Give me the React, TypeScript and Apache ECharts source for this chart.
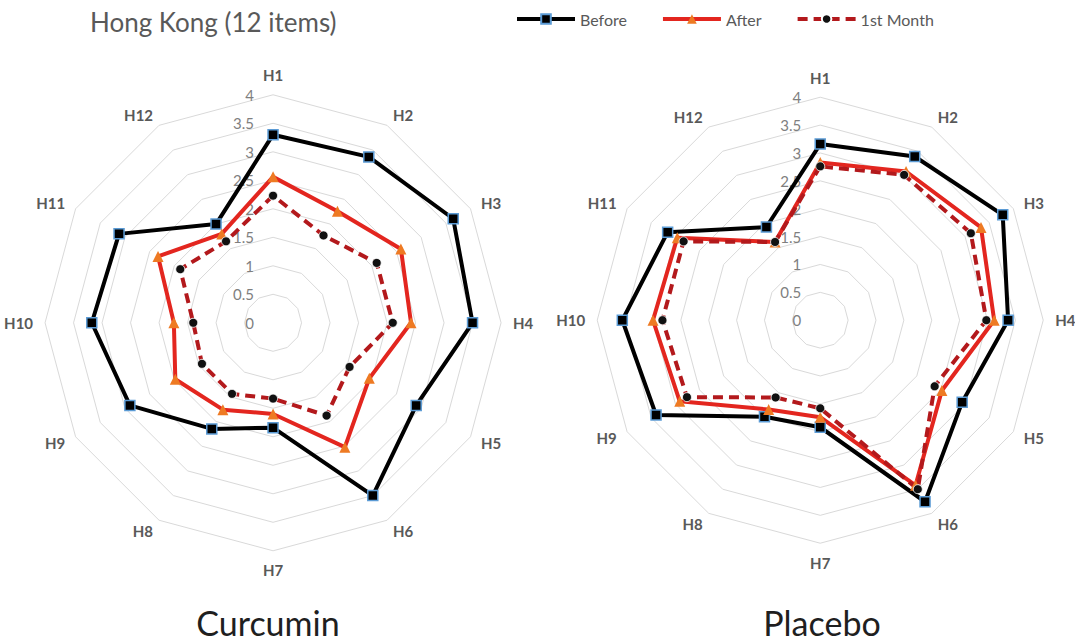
import React, { useEffect, useRef } from "react";
import * as echarts from "echarts";

const indicators = ["H1", "H2", "H3", "H4", "H5", "H6", "H7", "H8", "H9", "H10", "H11", "H12"];
const axisMax = 4;
const seriesNames = ["Before", "After", "1st Month"];

const curcuminBefore = [3.3, 3.36, 3.65, 3.5, 2.9, 3.5, 1.84, 2.15, 2.9, 3.18, 3.12, 2.0];
const curcuminAfter = [2.56, 2.26, 2.59, 2.42, 1.95, 2.52, 1.6, 1.76, 1.98, 1.74, 2.33, 1.8];
const curcuminMonth1 = [2.23, 1.77, 2.1, 2.1, 1.55, 1.88, 1.33, 1.44, 1.44, 1.4, 1.88, 1.65];

const placeboBefore = [3.16, 3.39, 3.78, 3.37, 2.94, 3.76, 1.92, 2.0, 3.4, 3.55, 3.16, 1.93];
const placeboAfter = [2.83, 3.08, 3.33, 3.12, 2.52, 3.42, 1.74, 1.85, 2.91, 3.0, 2.96, 1.62];
const placeboMonth1 = [2.76, 3.01, 3.12, 2.98, 2.37, 3.5, 1.58, 1.6, 2.76, 2.83, 2.83, 1.62];

const FONT = "Lato, 'Open Sans', sans-serif";

// ECharts places indicators counter-clockwise; reorder to get a clockwise layout
const order = [0, 11, 10, 9, 8, 7, 6, 5, 4, 3, 2, 1];
const reorder = (arr: number[]) => order.map((i) => arr[i]);

const styles = [
  {
    symbol: "rect",
    symbolSize: 10,
    lineStyle: { color: "#000000", width: 4, type: "solid" as any },
    itemStyle: { color: "#000000", borderColor: "#5b9bd5", borderWidth: 1.5 },
  },
  {
    symbol: "triangle",
    symbolSize: 11,
    lineStyle: { color: "#e3261f", width: 4, type: "solid" as any },
    itemStyle: { color: "#ee7a23", borderColor: "#ee7a23", borderWidth: 0 },
  },
  {
    symbol: "circle",
    symbolSize: 9,
    lineStyle: { color: "#b3191c", width: 4, type: [10, 6] as any },
    itemStyle: { color: "#111111", borderColor: "#ffffff", borderWidth: 0.8 },
  },
];

function makeRadar(center: [string, string], radius: number) {
  return {
    center,
    radius,
    startAngle: 90,
    splitNumber: 8,
    shape: "polygon",
    indicator: order.map((i, k) => ({
      name: indicators[i],
      min: 0,
      max: axisMax,
      axisLabel:
        k === 0
          ? {
              show: true,
              color: "#7f7f7f",
              fontSize: 15,
              fontFamily: FONT,
              margin: 19,
              showMinLabel: true,
              showMaxLabel: true,
            }
          : { show: false },
    })),
    axisName: { color: "#595959", fontWeight: "bold", fontSize: 15, fontFamily: FONT },
    nameGap: 12,
    splitLine: { lineStyle: { color: "#d9d9d9", width: 1 } },
    splitArea: { show: false },
    axisLine: { show: false },
    axisTick: { show: false },
    axisLabel: { show: false },
  };
}

export default function App() {
  const ref = useRef<HTMLDivElement>(null);
  useEffect(() => {
    if (!ref.current) return;
    const chart = echarts.init(ref.current, undefined, { renderer: "svg" });
    const radarData = (vals: number[][]) =>
      vals.map((v, i) => ({
        name: seriesNames[i],
        value: reorder(v),
        symbol: styles[i].symbol,
        symbolSize: styles[i].symbolSize,
        lineStyle: styles[i].lineStyle,
        itemStyle: styles[i].itemStyle,
      }));
    chart.setOption({
      animation: false,
      backgroundColor: "#ffffff",
      grid: { left: -200, top: -200, width: 10, height: 10, show: false },
      xAxis: { show: false, type: "category", data: [] },
      yAxis: { show: false, type: "value" },
      legend: {
        top: 6,
        left: 510,
        itemWidth: 58,
        itemHeight: 12,
        itemGap: 34,
        selectedMode: false,
        lineStyle: { width: 4 },
        textStyle: { color: "#595959", fontSize: 16, fontFamily: FONT },
        data: seriesNames,
      },
      radar: [makeRadar(["25.4%", "50.2%"], 228), makeRadar(["76.3%", "49.8%"], 223)],
      series: [
        ...seriesNames.map((n, i) => ({
          type: "line",
          name: n,
          data: [],
          symbol: styles[i].symbol,
          symbolSize: styles[i].symbolSize,
          lineStyle: styles[i].lineStyle,
          itemStyle: styles[i].itemStyle,
        })),
        {
          type: "radar",
          radarIndex: 0,
          data: radarData([curcuminBefore, curcuminAfter, curcuminMonth1]),
        },
        {
          type: "radar",
          radarIndex: 1,
          data: radarData([placeboBefore, placeboAfter, placeboMonth1]),
        },
      ],
      graphic: [
        {
          type: "text",
          x: 90,
          y: 22,
          style: {
            text: "Hong Kong (12 items)",
            fill: "#595959",
            font: `26px ${FONT}`,
            textVerticalAlign: "middle",
          },
        },
        {
          type: "text",
          x: 268,
          y: 622,
          style: {
            text: "Curcumin",
            fill: "#1f1f1f",
            font: `34px ${FONT}`,
            textAlign: "center",
            textVerticalAlign: "middle",
          },
        },
        {
          type: "text",
          x: 822,
          y: 622,
          style: {
            text: "Placebo",
            fill: "#1f1f1f",
            font: `34px ${FONT}`,
            textAlign: "center",
            textVerticalAlign: "middle",
          },
        },
      ],
    });
    return () => chart.dispose();
  }, []);
  return (
    <div
      ref={ref}
      style={{ position: "fixed", left: 0, top: 0, width: 1075, height: 643, background: "#fff" }}
    />
  );
}
